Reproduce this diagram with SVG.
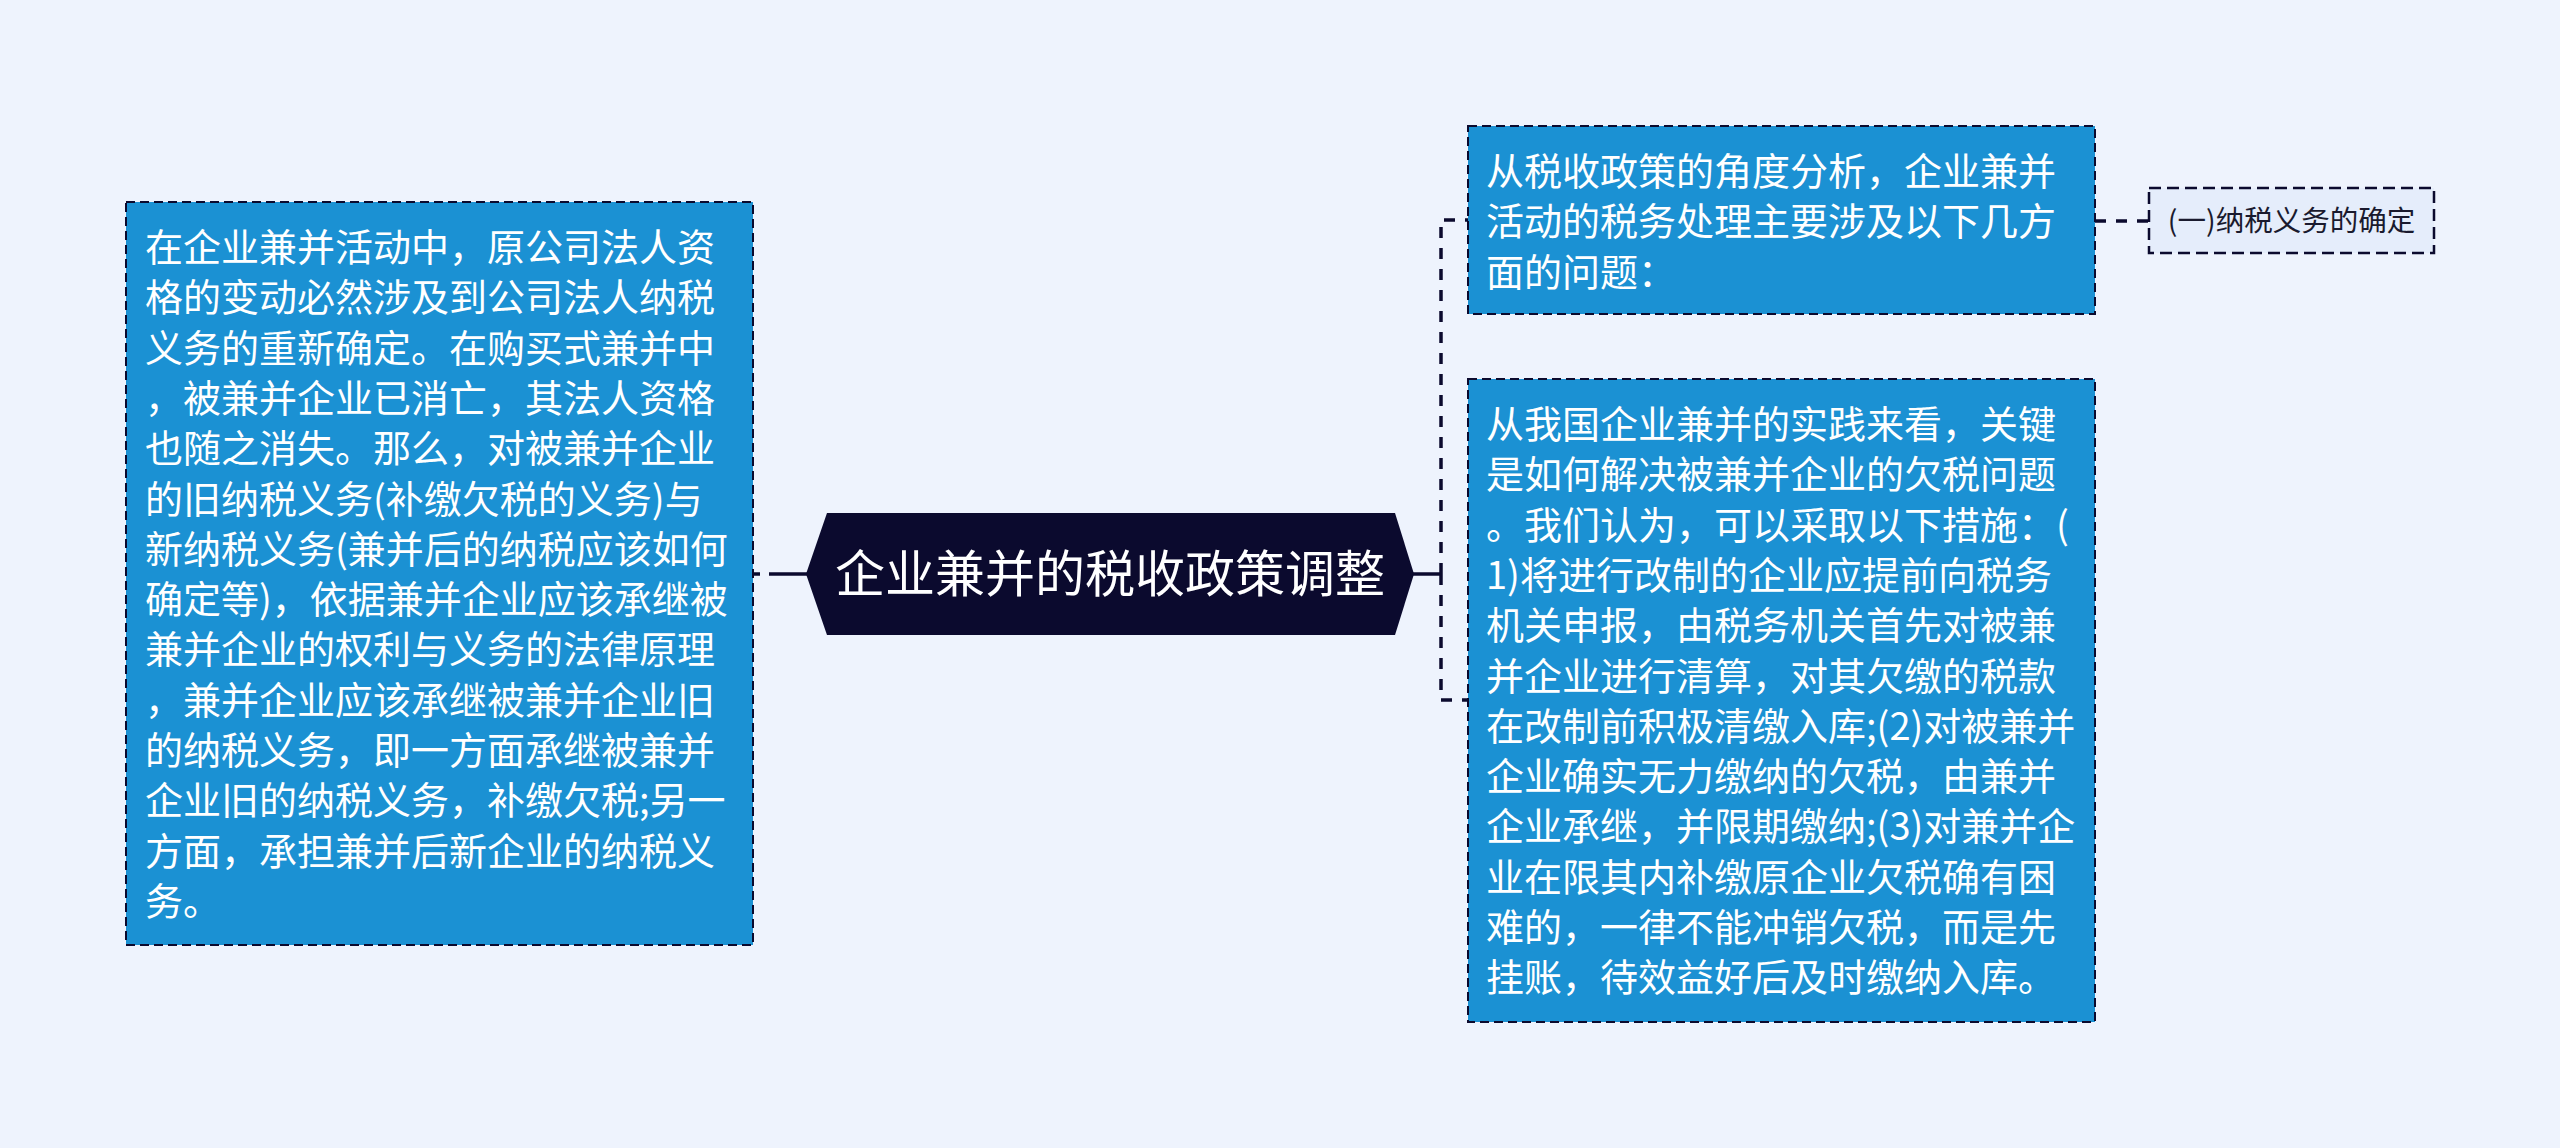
<svg xmlns="http://www.w3.org/2000/svg" width="2560" height="1148" viewBox="0 0 2560 1148">
<style>
.bg{fill:#eef3fd}
.box{fill:#1b91d3;stroke:#0b0a2e;stroke-width:2;stroke-dasharray:9,5}
.sub{fill:#e5edfb;stroke:#0b0a2e;stroke-width:2.5;stroke-dasharray:12,6}
.t{font-family:"Noto Sans CJK SC","Noto Sans",sans-serif;font-size:38px;fill:#ffffff}
.ts{font-family:"Noto Sans CJK SC","Noto Sans",sans-serif;font-size:28.5px;fill:#1a1a2e}
.tc{font-family:"Noto Sans CJK SC","Noto Sans",sans-serif;font-size:50px;fill:#ffffff}
.c{fill:none;stroke:#0b0a2e;stroke-width:3.5}
.cd{fill:none;stroke:#0b0a2e;stroke-width:3.5;stroke-dasharray:11,10}
</style>
<rect class="bg" x="0" y="0" width="2560" height="1148"/>
<g id="connectors">
<line class="c" x1="769" y1="574" x2="807" y2="574"/>
<line class="c" x1="753" y1="574" x2="760" y2="574"/>
<line class="c" x1="1413" y1="574" x2="1441" y2="574"/>
<path class="cd" d="M1441,574 V220 H1468"/>
<path class="cd" d="M1441,574 V700 H1468"/>
<path class="cd" d="M2095,221 H2149"/>
</g>
<g id="center">
<polygon points="806,574 827,513 1395,513 1414,574 1395,635 827,635" fill="#0b0a2e"/>
<text class="tc" x="1110" y="592" text-anchor="middle">企业兼并的税收政策调整</text>
</g>
<g id="left">
<rect class="box" x="126" y="202" width="627" height="743"/>
<text class="t" x="145">
<tspan x="145" y="261">在企业兼并活动中，原公司法人资</tspan>
<tspan x="145" y="311.3">格的变动必然涉及到公司法人纳税</tspan>
<tspan x="145" y="361.6">义务的重新确定。在购买式兼并中</tspan>
<tspan x="145" y="411.9">，被兼并企业已消亡，其法人资格</tspan>
<tspan x="145" y="462.2">也随之消失。那么，对被兼并企业</tspan>
<tspan x="145" y="512.5">的旧纳税义务(补缴欠税的义务)与</tspan>
<tspan x="145" y="562.8">新纳税义务(兼并后的纳税应该如何</tspan>
<tspan x="145" y="613.1">确定等)，依据兼并企业应该承继被</tspan>
<tspan x="145" y="663.4">兼并企业的权利与义务的法律原理</tspan>
<tspan x="145" y="713.7">，兼并企业应该承继被兼并企业旧</tspan>
<tspan x="145" y="764">的纳税义务，即一方面承继被兼并</tspan>
<tspan x="145" y="814.3">企业旧的纳税义务，补缴欠税;另一</tspan>
<tspan x="145" y="864.6">方面，承担兼并后新企业的纳税义</tspan>
<tspan x="145" y="914.9">务。</tspan>
</text>
</g>
<g id="right-top">
<rect class="box" x="1468" y="126" width="627" height="188"/>
<text class="t">
<tspan x="1486" y="185">从税收政策的角度分析，企业兼并</tspan>
<tspan x="1486" y="235.3">活动的税务处理主要涉及以下几方</tspan>
<tspan x="1486" y="285.6">面的问题：</tspan>
</text>
</g>
<g id="right-sub">
<rect class="sub" x="2149" y="188" width="285" height="65"/>
<text class="ts" x="2291.5" y="231" text-anchor="middle">(一)纳税义务的确定</text>
</g>
<g id="right-bottom">
<rect class="box" x="1468" y="379" width="627" height="643"/>
<text class="t">
<tspan x="1486" y="438">从我国企业兼并的实践来看，关键</tspan>
<tspan x="1486" y="488.3">是如何解决被兼并企业的欠税问题</tspan>
<tspan x="1486" y="538.6">。我们认为，可以采取以下措施：(</tspan>
<tspan x="1486" y="588.9">1)将进行改制的企业应提前向税务</tspan>
<tspan x="1486" y="639.2">机关申报，由税务机关首先对被兼</tspan>
<tspan x="1486" y="689.5">并企业进行清算，对其欠缴的税款</tspan>
<tspan x="1486" y="739.8">在改制前积极清缴入库;(2)对被兼并</tspan>
<tspan x="1486" y="790.1">企业确实无力缴纳的欠税，由兼并</tspan>
<tspan x="1486" y="840.4">企业承继，并限期缴纳;(3)对兼并企</tspan>
<tspan x="1486" y="890.7">业在限其内补缴原企业欠税确有困</tspan>
<tspan x="1486" y="941">难的，一律不能冲销欠税，而是先</tspan>
<tspan x="1486" y="991.3">挂账，待效益好后及时缴纳入库。</tspan>
</text>
</g>
</svg>
